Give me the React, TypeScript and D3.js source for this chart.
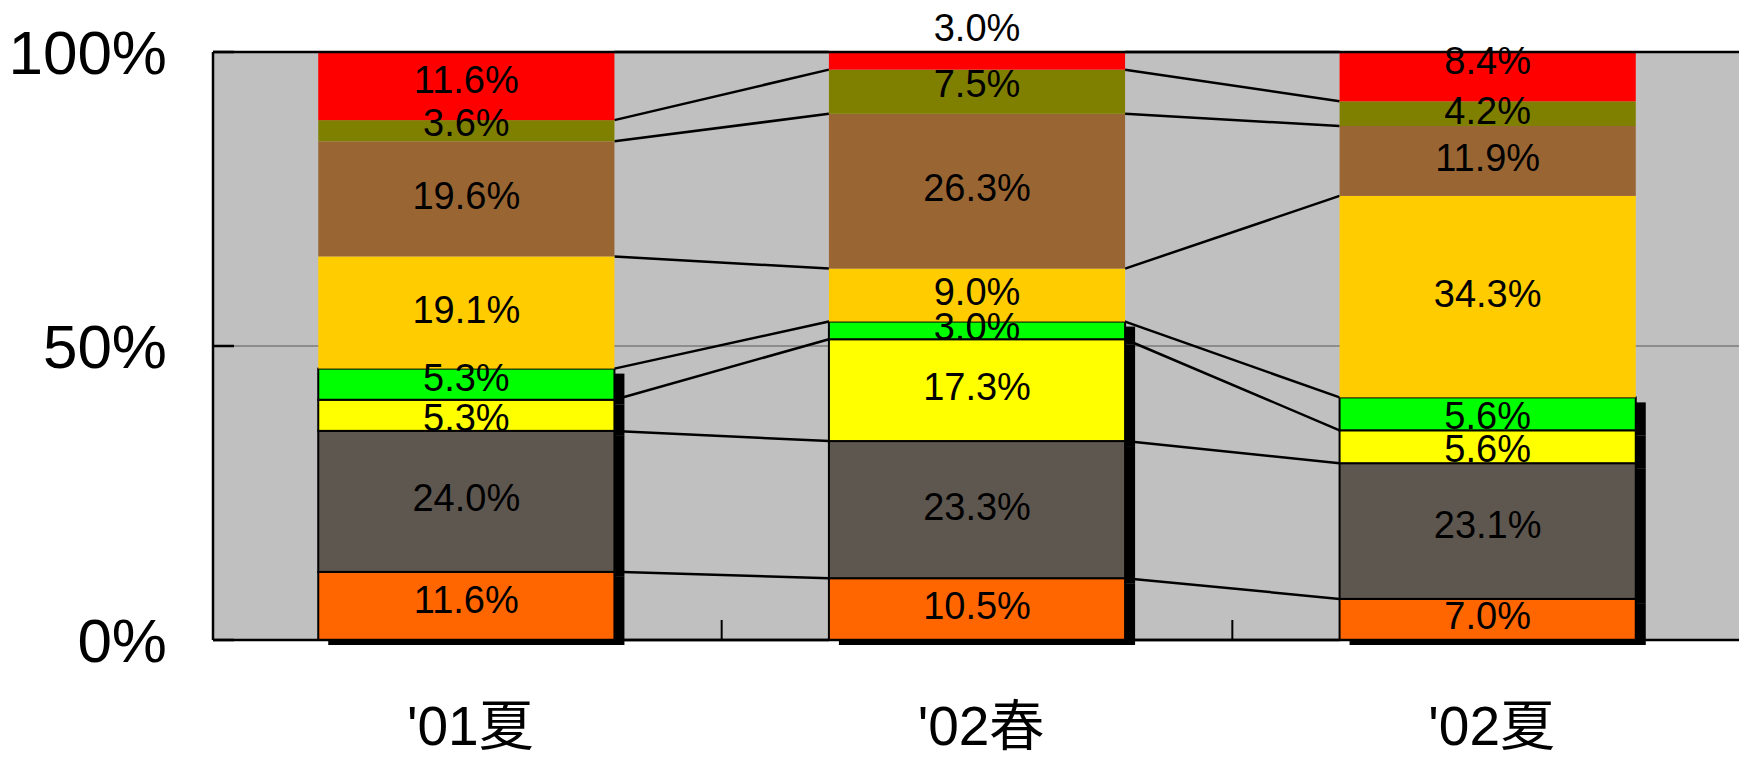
import React, { useEffect } from "react";
import * as d3 from "d3";

// Survey waves along the x axis
const waves = ["'01夏", "'02春", "'02夏"];

// Stack order, bottom to top
const seriesKeys = ["s1", "s2", "s3", "s4", "s5", "s6", "s7", "s8"];
const seriesColors = ["#FF6600", "#5E574F", "#FFFF00", "#00FF00", "#FFCC00", "#996633", "#808000", "#FF0000"];
// the lower four series are drawn with an outline and a drop shadow
const outlinedSeries = [true, true, true, true, false, false, false, false];

// Shares (%) per wave, one array per series (bottom to top)
const s1 = [11.6, 10.5, 7.0];
const s2 = [24.0, 23.3, 23.1];
const s3 = [5.3, 17.3, 5.6];
const s4 = [5.3, 3.0, 5.6];
const s5 = [19.1, 9.0, 34.3];
const s6 = [19.6, 26.3, 11.9];
const s7 = [3.6, 7.5, 4.2];
const s8 = [11.6, 3.0, 8.4];
const seriesValues = [s1, s2, s3, s4, s5, s6, s7, s8];

const yTicks = [0, 50, 100];

// vertical nudges for a few crowded labels, [series][wave] in px
const labelNudge = [
  [-3, 0, 0],
  [0, 0, -3],
  [6, 0, 5],
  [-3, 0, 5],
  [0, 0, 0],
  [0, 0, 0],
  [-5, -5, 0],
  [-3, -30, -13],
];

const W = 1739;
const H = 759;
const plotLeft = 213;
const plotTop = 52;
const plotBottom = 640;

export default function App() {
  useEffect(() => {
    document.body.style.margin = "0";
  }, []);

  const rows = waves.map((w, i) => {
    const r: Record<string, any> = { wave: w };
    seriesKeys.forEach((k, j) => (r[k] = seriesValues[j][i]));
    return r;
  });
  const stacked = d3.stack().keys(seriesKeys).offset(d3.stackOffsetExpand)(rows as any);

  const x = d3.scaleBand().domain(waves).range([211, 1743]).padding(0);
  const barW = x.bandwidth() * 0.58;
  const barX = (w: string) => (x(w) as number) + (x.bandwidth() - barW) / 2;
  const y = d3.scaleLinear().domain([0, 1]).range([plotBottom, plotTop]);
  const yPct = d3.scaleLinear().domain([0, 100]).range([plotBottom, plotTop]);

  const font = "'Liberation Sans', 'Noto Sans CJK JP', sans-serif";
  const shadowDx = 10;
  const shadowDy = 5;

  // series lines joining segment boundaries of neighbouring bars
  const seriesLines: { x1: number; y1: number; x2: number; y2: number }[] = [];
  stacked.forEach((layer) => {
    for (let i = 0; i < waves.length - 1; i++) {
      seriesLines.push({
        x1: barX(waves[i]) + barW,
        y1: y(layer[i][1]),
        x2: barX(waves[i + 1]),
        y2: y(layer[i + 1][1]),
      });
    }
  });
  for (let i = 0; i < waves.length - 1; i++) {
    seriesLines.push({ x1: barX(waves[i]) + barW, y1: y(0), x2: barX(waves[i + 1]), y2: y(0) });
  }

  return (
    <svg width={W} height={H} style={{ display: "block" }}>
      <rect x={plotLeft} y={plotTop} width={W - plotLeft} height={plotBottom - plotTop} fill="#C0C0C0" />
      <line x1={plotLeft} x2={W} y1={yPct(50)} y2={yPct(50)} stroke="#8C8C8C" strokeWidth={2} />

      {seriesLines.map((l, i) => (
        <line key={i} x1={l.x1} y1={l.y1} x2={l.x2} y2={l.y2} stroke="#000" strokeWidth={2.5} />
      ))}

      {/* drop shadows of the outlined segments */}
      {stacked.map((layer, j) =>
        outlinedSeries[j]
          ? layer.map((d, i) => (
              <rect
                key={`sh-${j}-${i}`}
                x={barX(waves[i]) + shadowDx}
                y={y(d[1]) + shadowDy}
                width={barW}
                height={y(d[0]) - y(d[1])}
                fill="#000"
              />
            ))
          : null
      )}

      {stacked.map((layer, j) =>
        layer.map((d, i) => (
          <rect
            key={`b-${j}-${i}`}
            x={barX(waves[i])}
            y={y(d[1])}
            width={barW}
            height={y(d[0]) - y(d[1])}
            fill={seriesColors[j]}
            stroke={outlinedSeries[j] ? "#000" : "none"}
            strokeWidth={outlinedSeries[j] ? 2 : 0}
          />
        ))
      )}

      {/* axes and frame */}
      <line x1={plotLeft} x2={W} y1={plotTop} y2={plotTop} stroke="#000" strokeWidth={2.5} />
      <line x1={plotLeft} x2={W} y1={plotBottom} y2={plotBottom} stroke="#000" strokeWidth={2.5} />
      <line x1={plotLeft} x2={plotLeft} y1={plotTop} y2={plotBottom} stroke="#000" strokeWidth={2.5} />
      {yTicks.map((t) => (
        <line key={`yt-${t}`} x1={plotLeft} x2={plotLeft + 21} y1={yPct(t)} y2={yPct(t)} stroke="#000" strokeWidth={2.5} />
      ))}
      {waves.slice(1).map((w) => (
        <line
          key={`xt-${w}`}
          x1={x(w) as number}
          x2={x(w) as number}
          y1={plotBottom}
          y2={plotBottom - 20}
          stroke="#000"
          strokeWidth={2}
        />
      ))}

      {/* value labels */}
      {stacked.map((layer, j) =>
        layer.map((d, i) => (
          <text
            key={`l-${j}-${i}`}
            x={barX(waves[i]) + barW / 2}
            y={(y(d[0]) + y(d[1])) / 2 + 10 + labelNudge[j][i]}
            textAnchor="middle"
            fontFamily={font}
            fontSize={38}
            fill="#000"
          >
            {seriesValues[j][i].toFixed(1) + "%"}
          </text>
        ))
      )}

      {yTicks.map((t) => (
        <text
          key={`yl-${t}`}
          x={167}
          y={yPct(t) + 22}
          textAnchor="end"
          fontFamily={font}
          fontSize={62}
          fill="#000"
        >
          {t + "%"}
        </text>
      ))}

      {waves.map((w) => (
        <text
          key={`xl-${w}`}
          x={(x(w) as number) + x.bandwidth() / 2 + 4}
          y={745}
          textAnchor="middle"
          fontFamily={font}
          fontSize={55}
          fill="#000"
        >
          {w}
        </text>
      ))}
    </svg>
  );
}
